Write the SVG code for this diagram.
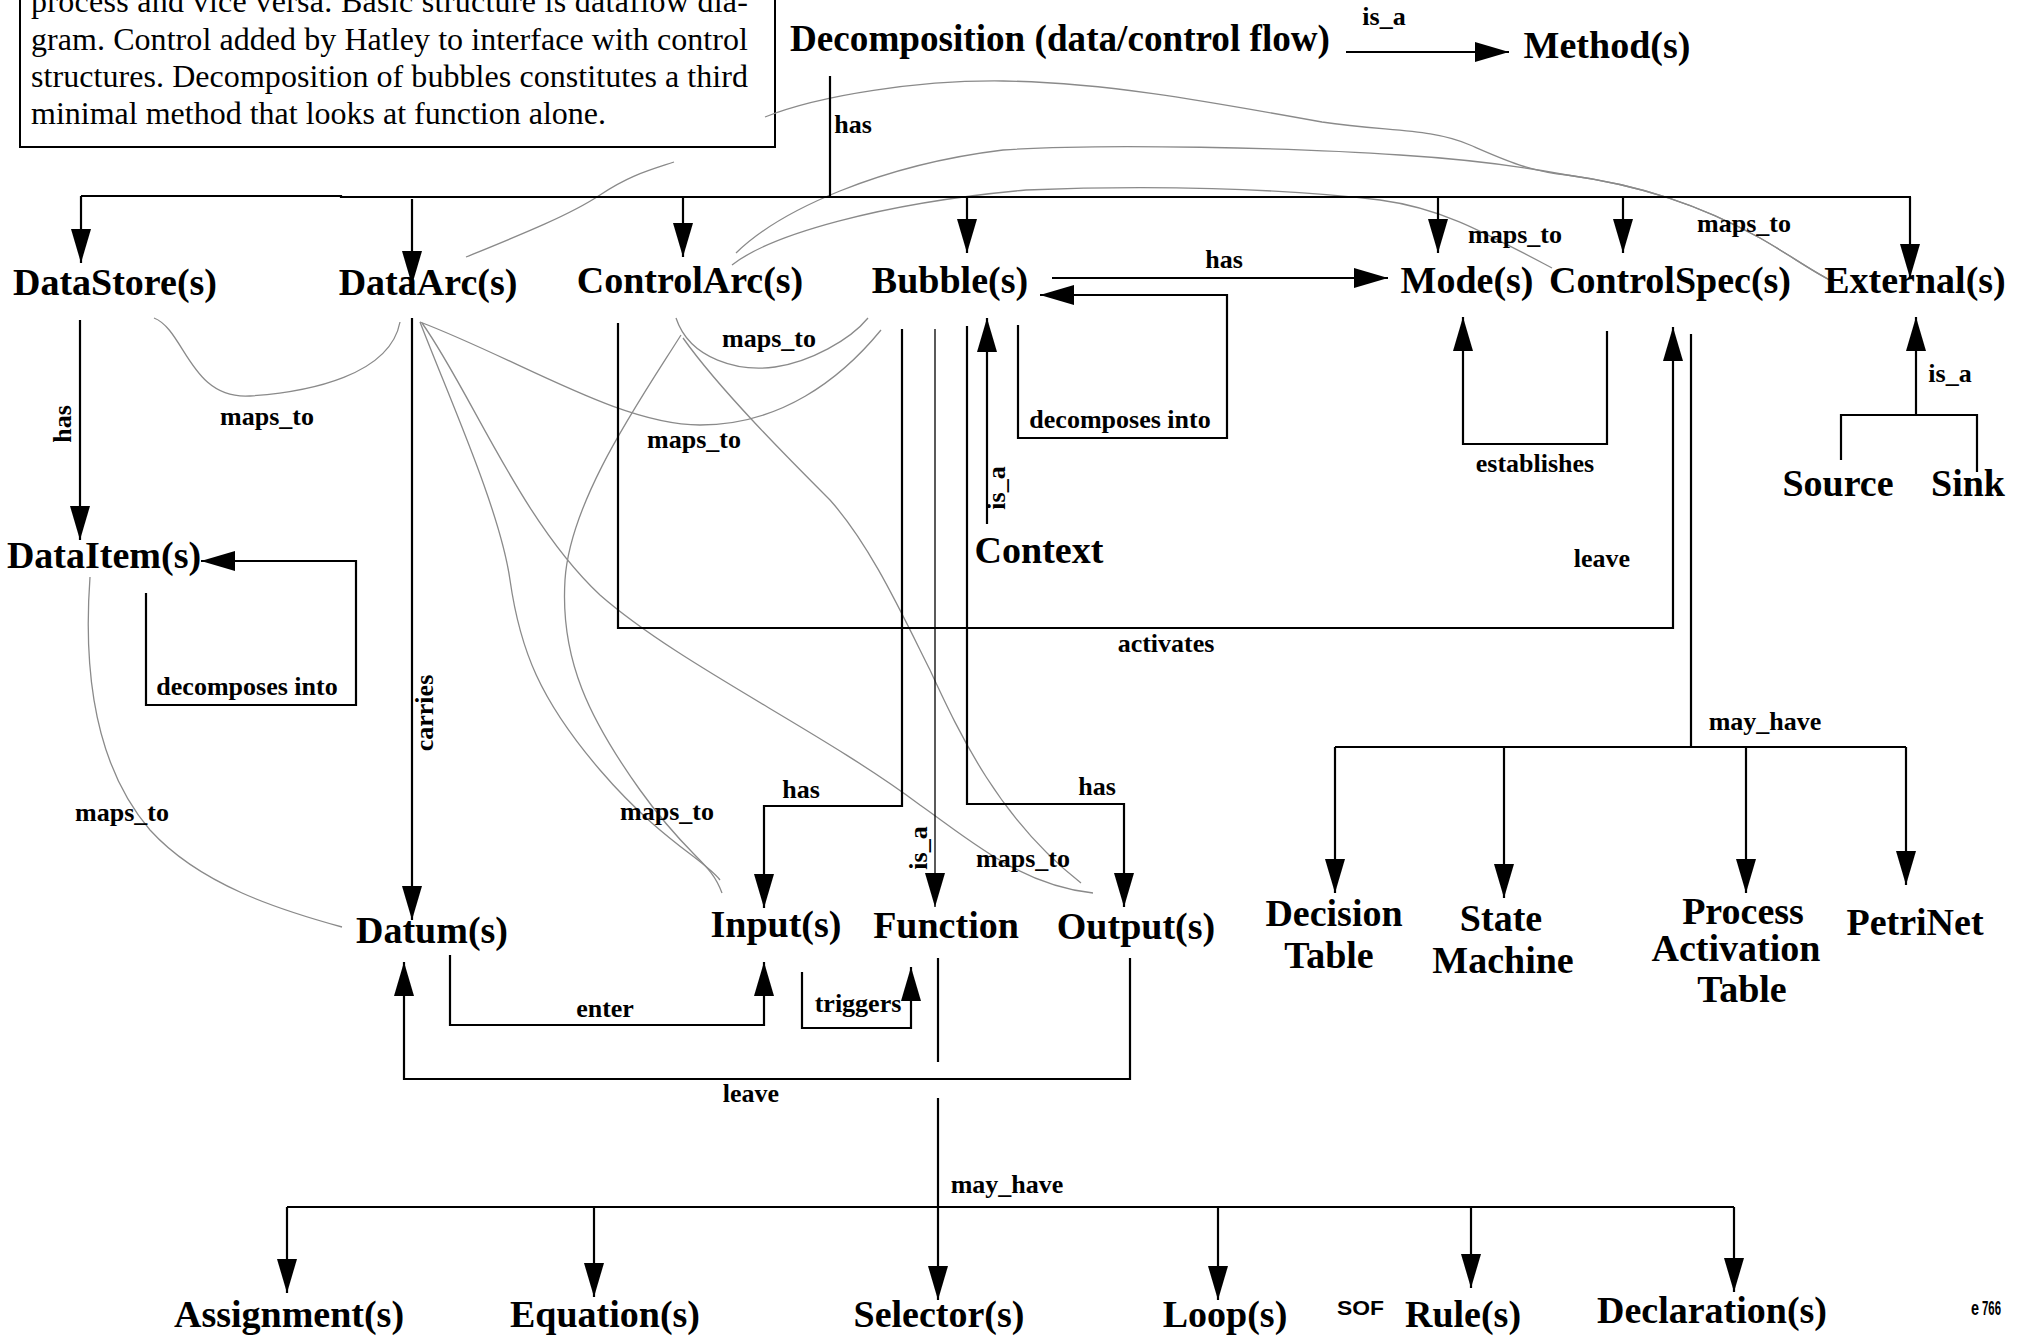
<svg xmlns="http://www.w3.org/2000/svg" width="2030" height="1336" viewBox="0 0 2030 1336">
  <style>
    .node { font-family: "Liberation Serif", "Times New Roman", serif; font-weight: bold; font-size: 38px; fill: #000; text-anchor: middle; }
    .lbl { font-family: "Liberation Serif", "Times New Roman", serif; font-weight: bold; font-size: 26px; fill: #000; text-anchor: middle; }
    .para { font-family: "Liberation Serif", "Times New Roman", serif; font-size: 32px; fill: #000; }
    .foot { font-family: "Liberation Sans", Arial, sans-serif; font-weight: bold; font-size: 21px; fill: #000; }
    .ln { stroke: #000; stroke-width: 2.2; fill: none; }
    .thin { stroke: #000; stroke-width: 1.3; fill: none; }
    .arr { marker-end: url(#ah); }
    .curve { stroke: #8a8a8a; stroke-width: 1.3; fill: none; }
  </style>
  <defs>
    <marker id="ah" markerUnits="userSpaceOnUse" markerWidth="36" markerHeight="22" refX="34" refY="10" orient="auto">
      <path d="M0,0 L34,10 L0,20 z" fill="#000"/>
    </marker>
  </defs>
  <rect width="2030" height="1336" fill="#fff"/>

  <!-- annotation box -->
  <g id="note">
    <rect x="20" y="-40" width="755" height="187" fill="none" stroke="#000" stroke-width="2"/>
    <text class="para" x="31" y="12" textLength="717" lengthAdjust="spacing">process and vice versa. Basic structure is dataflow dia-</text>
    <text class="para" x="31" y="49.5" textLength="717" lengthAdjust="spacing">gram. Control added by Hatley to interface with control</text>
    <text class="para" x="31" y="86.5" textLength="717" lengthAdjust="spacing">structures. Decomposition of bubbles constitutes a third</text>
    <text class="para" x="31" y="123.5">minimal method that looks at function alone.</text>
  </g>

  <!-- maps_to relations (grey curves) -->
  <g id="mappings">
    <path class="curve" d="M154,318 C185,330 190,400 250,396 S390,375 400,322"/>
    <path class="curve" d="M420,322 C450,400 500,510 510,580 S540,700 600,770 S705,860 720,880"/>
    <path class="curve" d="M681,335 C640,400 570,500 565,580 S590,720 640,790 S710,860 722,893"/>
    <path class="curve" d="M422,323 C470,390 520,520 600,595 C680,665 820,730 920,805 C970,840 1020,885 1093,893"/>
    <path class="curve" d="M420,322 C520,360 620,425 700,425 C780,425 840,380 881,330"/>
    <path class="curve" d="M676,318 C690,360 740,372 775,367 C810,362 850,340 868,318"/>
    <path class="curve" d="M683,338 C720,390 790,460 830,500 C870,545 900,610 930,670 C960,735 1000,820 1081,883"/>
    <path class="curve" d="M90,577 C84,660 90,760 150,830 C200,885 280,910 342,927"/>
    <path class="curve" d="M466,257 C520,235 570,215 600,195 S650,170 674,162"/>
    <path class="curve" d="M765,117 C820,95 920,80 1003,81 C1100,82 1200,100 1322,122 C1390,132 1430,128 1470,145 C1500,158 1530,172 1567,175 C1640,185 1700,205 1760,238 C1790,255 1810,270 1830,280"/>
    <path class="curve" d="M736,253 C780,210 880,165 1003,150 C1100,143 1300,148 1400,155 C1480,160 1530,168 1567,175 C1640,185 1700,205 1760,238 C1790,255 1810,270 1830,280"/>
    <path class="curve" d="M732,265 C770,235 880,203 1026,190 C1150,185 1280,188 1380,200 C1440,208 1480,230 1552,268"/>
  </g>

  <!-- structural connectors -->
  <g id="connectors">
    <path class="ln arr" d="M1346,52 H1509"/>
    <path class="ln" d="M830,76 V197"/>
    <path class="ln" d="M81,196 H341 V197 H1911"/>
    <path class="ln arr" d="M81,196 V263"/>
    <path class="ln arr" d="M412,199 V285"/>
    <path class="ln arr" d="M683,197 V257"/>
    <path class="ln arr" d="M967,197 V253"/>
    <path class="ln arr" d="M1438,197 V253"/>
    <path class="ln arr" d="M1623,197 V253"/>
    <path class="ln arr" d="M1910,197 V278"/>

    <path class="ln arr" d="M1052,278 H1388"/>
    <path class="ln arr" d="M1018,325 V438 H1227 V295 H1040"/>
    <path class="ln arr" d="M987,524 V318"/>
    <path class="ln arr" d="M902,329 V806 H764 V908"/>
    <path class="thin arr" d="M935,329 V907"/>
    <path class="ln arr" d="M967,326 V804 H1124 V907"/>
    <path class="ln arr" d="M618,323 V628 H1673 V327"/>
    <path class="ln arr" d="M1607,331 V444 H1463 V317"/>

    <path class="ln" d="M1691,334 V747"/>
    <path class="ln" d="M1335,747 H1906"/>
    <path class="ln arr" d="M1335,747 V893"/>
    <path class="ln arr" d="M1504,747 V898"/>
    <path class="ln arr" d="M1746,747 V893"/>
    <path class="ln arr" d="M1906,747 V885"/>

    <path class="ln arr" d="M1916,415 V317"/>
    <path class="ln" d="M1841,460 V415 H1977 V472"/>

    <path class="ln arr" d="M80,320 V540"/>
    <path class="ln arr" d="M146,593 V705 H356 V561 H201"/>
    <path class="ln arr" d="M412,318 V920"/>
    <path class="ln arr" d="M450,955 V1025 H764 V962"/>
    <path class="ln arr" d="M802,972 V1028 H911 V967"/>
    <path class="ln arr" d="M1130,958 V1079 H404 V962"/>

    <path class="ln" d="M938,958 V1062"/>
    <path class="ln arr" d="M938,1098 V1300"/>
    <path class="ln" d="M287,1207 H1734"/>
    <path class="ln arr" d="M287,1207 V1293"/>
    <path class="ln arr" d="M594,1207 V1297"/>
    <path class="ln arr" d="M1218,1207 V1300"/>
    <path class="ln arr" d="M1471,1207 V1288"/>
    <path class="ln arr" d="M1734,1207 V1292"/>
  </g>

  <!-- connector labels -->
  <g id="edge-labels">
    <text class="lbl" x="1384" y="25">is_a</text>
    <text class="lbl" x="853" y="133">has</text>
    <text class="lbl" x="1224" y="268">has</text>
    <text class="lbl" x="1120" y="428">decomposes into</text>
    <text class="lbl" transform="translate(1005,488) rotate(-90)">is_a</text>
    <text class="lbl" x="267" y="425">maps_to</text>
    <text class="lbl" x="769" y="347">maps_to</text>
    <text class="lbl" x="694" y="448">maps_to</text>
    <text class="lbl" x="1515" y="243">maps_to</text>
    <text class="lbl" x="1744" y="232">maps_to</text>
    <text class="lbl" x="1535" y="472">establishes</text>
    <text class="lbl" x="1602" y="567">leave</text>
    <text class="lbl" x="1166" y="652">activates</text>
    <text class="lbl" x="1950" y="382">is_a</text>
    <text class="lbl" transform="translate(71,424) rotate(-90)">has</text>
    <text class="lbl" x="247" y="695">decomposes into</text>
    <text class="lbl" transform="translate(433,713) rotate(-90)">carries</text>
    <text class="lbl" x="122" y="821">maps_to</text>
    <text class="lbl" x="1765" y="730">may_have</text>
    <text class="lbl" x="801" y="798">has</text>
    <text class="lbl" x="1097" y="795">has</text>
    <text class="lbl" x="667" y="820">maps_to</text>
    <text class="lbl" x="1023" y="867">maps_to</text>
    <text class="lbl" transform="translate(927,848) rotate(-90)">is_a</text>
    <text class="lbl" x="605" y="1017">enter</text>
    <text class="lbl" x="858" y="1012">triggers</text>
    <text class="lbl" x="751" y="1102">leave</text>
    <text class="lbl" x="1007" y="1193">may_have</text>
  </g>

  <!-- nodes -->
  <g id="decomposition"><text class="node" x="1060" y="51" textLength="540" lengthAdjust="spacingAndGlyphs">Decomposition (data/control flow)</text></g>
  <g id="methods"><text class="node" x="1607" y="58">Method(s)</text></g>
  <g id="datastore"><text class="node" x="115" y="295">DataStore(s)</text></g>
  <g id="dataarc"><text class="node" x="428" y="295">DataArc(s)</text></g>
  <g id="controlarc"><text class="node" x="690" y="293">ControlArc(s)</text></g>
  <g id="bubble"><text class="node" x="950" y="293">Bubble(s)</text></g>
  <g id="mode"><text class="node" x="1467" y="293">Mode(s)</text></g>
  <g id="controlspec"><text class="node" x="1670" y="293">ControlSpec(s)</text></g>
  <g id="external"><text class="node" x="1915" y="293">External(s)</text></g>
  <g id="dataitem"><text class="node" x="104" y="568">DataItem(s)</text></g>
  <g id="context"><text class="node" x="1039" y="563">Context</text></g>
  <g id="source"><text class="node" x="1838" y="496">Source</text></g>
  <g id="sink"><text class="node" x="1968" y="496">Sink</text></g>
  <g id="datum"><text class="node" x="432" y="943">Datum(s)</text></g>
  <g id="input"><text class="node" x="776" y="937">Input(s)</text></g>
  <g id="function"><text class="node" x="946" y="938">Function</text></g>
  <g id="output"><text class="node" x="1136" y="939">Output(s)</text></g>
  <g id="decision-table"><text class="node" x="1334" y="926">Decision</text><text class="node" x="1329" y="968">Table</text></g>
  <g id="state-machine"><text class="node" x="1501" y="931">State</text><text class="node" x="1503" y="973">Machine</text></g>
  <g id="process-activation-table"><text class="node" x="1743" y="924">Process</text><text class="node" x="1736" y="961">Activation</text><text class="node" x="1742" y="1002">Table</text></g>
  <g id="petrinet"><text class="node" x="1915" y="935">PetriNet</text></g>
  <g id="assignment"><text class="node" x="289" y="1327">Assignment(s)</text></g>
  <g id="equation"><text class="node" x="605" y="1327">Equation(s)</text></g>
  <g id="selector"><text class="node" x="939" y="1327">Selector(s)</text></g>
  <g id="loop"><text class="node" x="1225" y="1327">Loop(s)</text></g>
  <g id="rule"><text class="node" x="1463" y="1327">Rule(s)</text></g>
  <g id="declaration"><text class="node" x="1712" y="1323">Declaration(s)</text></g>

  <!-- page footer fragments -->
  <g id="footer">
    <text class="foot" x="1337" y="1315" textLength="47" lengthAdjust="spacingAndGlyphs">SOF</text>
    <text class="foot" x="1971" y="1315" font-size="16" textLength="8" lengthAdjust="spacingAndGlyphs">e</text>
    <text class="foot" x="1982" y="1315" font-size="24" textLength="19" lengthAdjust="spacingAndGlyphs">766</text>
  </g>
</svg>
